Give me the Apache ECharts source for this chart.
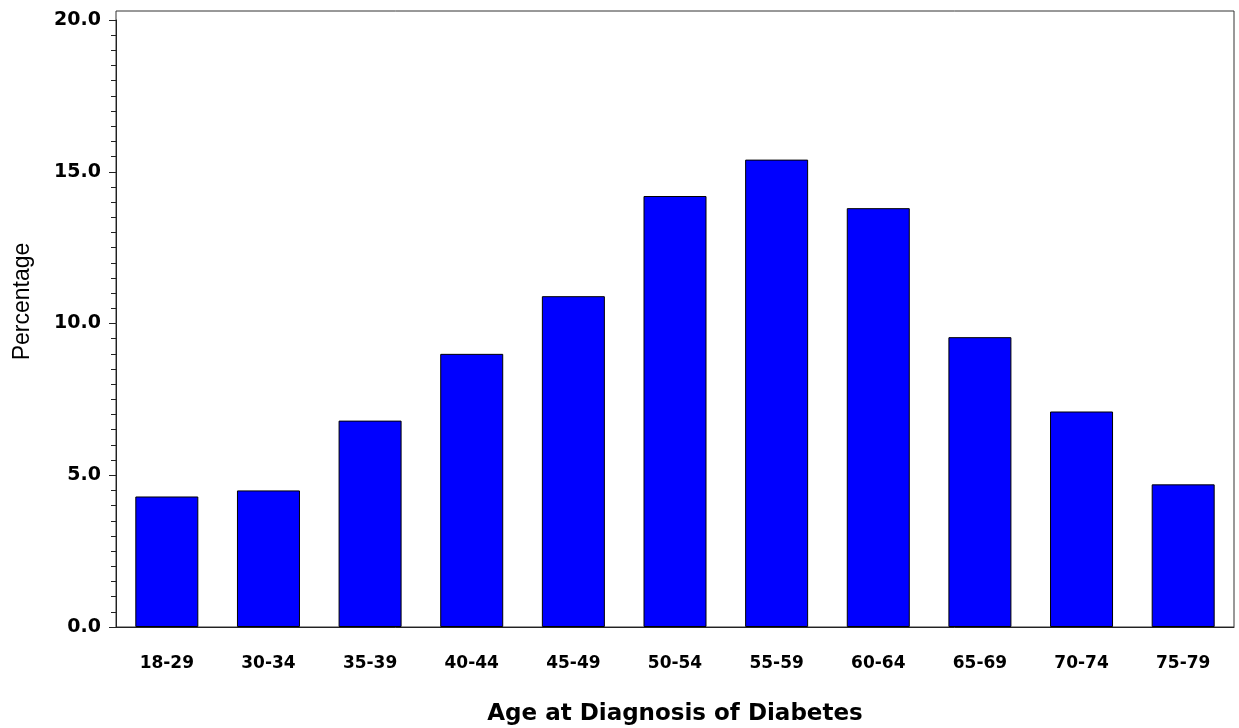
<!DOCTYPE html>
<html>
<head>
<meta charset="utf-8">
<script src="https://cdn.jsdelivr.net/npm/echarts@6/dist/echarts.min.js"></script>
<style>html,body{margin:0;padding:0;background:#fff;}#c{width:1239px;height:728px;}</style>
</head>
<body>
<div id="c"></div>
<script>
var categories = ['18-29','30-34','35-39','40-44','45-49','50-54','55-59','60-64','65-69','70-74','75-79'];
var percentages = [4.3, 4.5, 6.8, 9.0, 10.9, 14.2, 15.4, 13.8, 9.55, 7.1, 4.7];
var yTicks = [0, 5, 10, 15, 20];
var xTitle = 'Age at Diagnosis of Diabetes';
var yTitle = 'Percentage';

var chart = echarts.init(document.getElementById('c'), null, {renderer: 'canvas'});
chart.setOption({
  backgroundColor: '#ffffff',
  animation: false,
  grid: [
    {left: 116, right: 5, top: 20, bottom: 101, outerBoundsMode: 'none', containLabel: false},
    {left: 116, right: 5, top: 11, bottom: 101, outerBoundsMode: 'none', containLabel: false,
     show: true, borderColor: '#333', borderWidth: 1, backgroundColor: 'transparent', z: 0}
  ],
  xAxis: [{
    type: 'category',
    gridIndex: 0,
    data: categories,
    axisLine: {show: true, lineStyle: {color: '#222', width: 1}},
    axisTick: {show: false},
    axisLabel: {color: '#000', fontFamily: 'DejaVu Sans', fontWeight: 'bold', fontSize: 17, margin: 28},
    name: xTitle,
    nameLocation: 'middle',
    nameGap: 76,
    nameTextStyle: {color: '#000', fontFamily: 'DejaVu Sans', fontWeight: 'bold', fontSize: 23}
  }],
  yAxis: [{
    type: 'value',
    gridIndex: 0,
    min: yTicks[0],
    max: yTicks[yTicks.length - 1],
    interval: 5,
    splitLine: {show: false},
    axisLine: {show: true, lineStyle: {color: '#222', width: 1}},
    axisTick: {show: true, length: 7, lineStyle: {color: '#222'}},
    minorTick: {show: true, splitNumber: 10, length: 5, lineStyle: {color: '#222'}},
    axisLabel: {color: '#000', fontFamily: 'DejaVu Sans', fontWeight: 'bold', fontSize: 19, margin: 15,
      formatter: function (v) { return v.toFixed(1); }},
    name: yTitle,
    nameLocation: 'middle',
    nameGap: 82,
    nameRotate: 90,
    nameTextStyle: {color: '#000', fontFamily: 'Liberation Sans', fontSize: 23, padding: [0, 0, 0, 44]}
  }],
  series: [{
    type: 'bar',
    xAxisIndex: 0,
    yAxisIndex: 0,
    data: percentages,
    barWidth: 63,
    itemStyle: {color: '#0000ff', borderColor: '#000', borderWidth: 1}
  }]
});
</script>
</body>
</html>
